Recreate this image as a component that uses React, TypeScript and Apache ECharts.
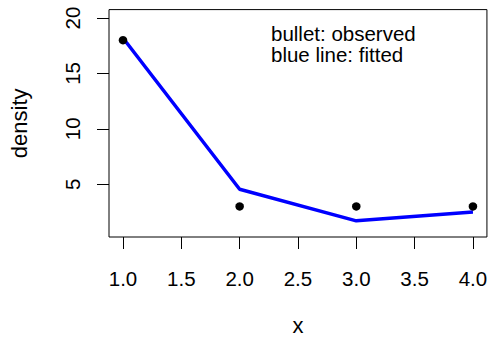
import React, { useEffect, useRef } from "react";
import * as echarts from "echarts";

const xValues = [1, 2, 3, 4];
const observed = [18, 3, 3, 3];
const fitted = [18.2, 4.55, 1.7, 2.5];
const xTicks = [1, 1.5, 2, 2.5, 3, 3.5, 4];
const yTicks = [5, 10, 15, 20];
const legendLines = ["bullet: observed", "blue line: fitted"];

const FONT = "Liberation Sans, Arial, Helvetica, sans-serif";

export default function App() {
  const ref = useRef<HTMLDivElement>(null);
  useEffect(() => {
    if (!ref.current) return;
    const chart = echarts.init(ref.current, null, { renderer: "svg" });
    chart.setOption({
      animation: false,
      backgroundColor: "#fff",
      grid: {
        left: 104,
        right: 1.3,
        top: 9.6,
        bottom: 97,
        show: true,
        borderColor: "#000",
        borderWidth: 1,
      },
      xAxis: {
        type: "value",
        min: 0.88,
        max: 4.12,
        name: "x",
        nameLocation: "middle",
        nameGap: 77,
        nameTextStyle: { color: "#000", fontSize: 22, fontFamily: FONT },
        axisLine: { show: false },
        splitLine: { show: false },
        axisTick: {
          show: true,
          inside: false,
          length: 12,
          customValues: xTicks,
          lineStyle: { color: "#000", width: 1 },
        },
        axisLabel: {
          customValues: xTicks,
          margin: 31,
          color: "#000",
          fontSize: 20.5,
          fontFamily: FONT,
          formatter: (v: number) => v.toFixed(1),
        },
      },
      yAxis: {
        type: "value",
        min: 0.24,
        max: 20.76,
        name: "density",
        nameLocation: "middle",
        nameGap: 79,
        nameTextStyle: { color: "#000", fontSize: 22, fontFamily: FONT },
        axisLine: { show: false },
        splitLine: { show: false },
        axisTick: {
          show: true,
          inside: false,
          length: 12,
          customValues: yTicks,
          lineStyle: { color: "#000", width: 1 },
        },
        axisLabel: {
          customValues: yTicks,
          rotate: 90,
          margin: 26.5,
          color: "#000",
          fontSize: 20.5,
          fontFamily: FONT,
        },
      },
      graphic: legendLines.map((line, i) => ({
        type: "text",
        left: 271,
        top: 22.6 + i * 21,
        style: {
          text: line,
          fill: "#000",
          fontSize: 20.5,
          lineHeight: 20.5,
          fontFamily: FONT,
        },
      })),
      series: [
        {
          type: "line",
          data: xValues.map((x, i) => [x, fitted[i]]),
          showSymbol: false,
          symbol: "none",
          lineStyle: { color: "#0000ff", width: 3.5 },
          z: 2,
        },
        {
          type: "scatter",
          data: xValues.map((x, i) => [x, observed[i]]),
          symbol: "circle",
          symbolSize: 8.5,
          itemStyle: { color: "#000", opacity: 1 },
          z: 3,
        },
      ],
    });
    return () => chart.dispose();
  }, []);
  return <div ref={ref} style={{ width: 490, height: 341, position: "absolute", left: 0, top: 0 }} />;
}
